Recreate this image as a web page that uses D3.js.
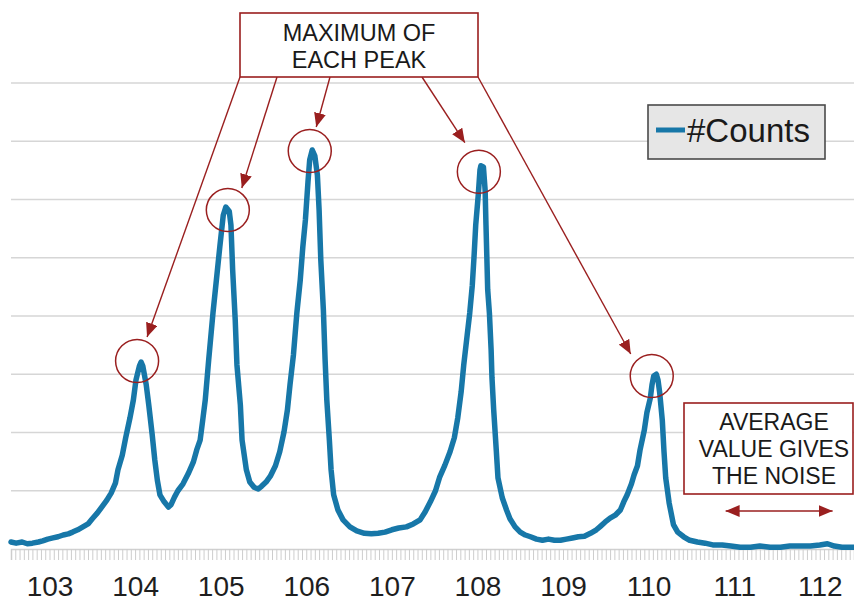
<!DOCTYPE html>
<html>
<head>
<meta charset="utf-8">
<script src="https://cdn.jsdelivr.net/npm/d3@7/dist/d3.min.js"></script>
<style>
  html, body { margin: 0; padding: 0; background: #fff; }
  svg { display: block; font-family: "Liberation Sans", Arial, Helvetica, sans-serif; }
</style>
</head>
<body>
<svg id="chart" width="854" height="603"></svg>
<script>
// Mass axis (m/z) and recorded counts of the spectrum
const mz = [
  102.55, 102.61, 102.68, 102.74, 102.80, 102.87, 102.92, 102.98, 103.04, 103.10,
  103.16, 103.22, 103.27, 103.33, 103.39, 103.45, 103.50, 103.56, 103.61, 103.67,
  103.72, 103.77, 103.80, 103.85, 103.89, 103.94, 103.98, 104.01, 104.05, 104.07,
  104.09, 104.13, 104.16, 104.20, 104.23, 104.26, 104.29, 104.34, 104.39, 104.42,
  104.46, 104.50, 104.56, 104.62, 104.68, 104.72, 104.76, 104.79, 104.82, 104.86,
  104.91, 104.95, 104.99, 105.03, 105.06, 105.10, 105.12, 105.14, 105.17, 105.19,
  105.23, 105.25, 105.30, 105.34, 105.39, 105.44, 105.48, 105.53, 105.58, 105.64,
  105.69, 105.74, 105.78, 105.81, 105.85, 105.89, 105.93, 105.96, 105.99, 106.02,
  106.04, 106.07, 106.10, 106.13, 106.15, 106.17, 106.20, 106.22, 106.24, 106.27,
  106.29, 106.32, 106.37, 106.43, 106.51, 106.59, 106.68, 106.76, 106.84, 106.92,
  107.00, 107.08, 107.17, 107.25, 107.33, 107.39, 107.45, 107.51, 107.56, 107.62,
  107.68, 107.73, 107.77, 107.81, 107.84, 107.88, 107.91, 107.94, 107.96, 107.98,
  108.01, 108.03, 108.04, 108.07, 108.09, 108.10, 108.11, 108.12, 108.14, 108.16,
  108.17, 108.19, 108.22, 108.24, 108.29, 108.34, 108.38, 108.44, 108.50, 108.56,
  108.62, 108.69, 108.76, 108.83, 108.90, 108.97, 109.04, 109.11, 109.18, 109.25,
  109.32, 109.39, 109.43, 109.49, 109.55, 109.61, 109.67, 109.71, 109.75, 109.80,
  109.83, 109.87, 109.90, 109.95, 109.98, 110.02, 110.04, 110.06, 110.09, 110.11,
  110.13, 110.16, 110.18, 110.20, 110.24, 110.29, 110.34, 110.41, 110.48, 110.57,
  110.66, 110.75, 110.86, 110.96, 111.07, 111.19, 111.30, 111.42, 111.54, 111.65,
  111.77, 111.89, 112.00, 112.09, 112.17, 112.26, 112.33, 112.40
];
const counts = [
   12,  10,  12,   9,  10,  12,  14,  17,  19,  21,
   24,  26,  29,  33,  38,  43,  52,  62,  72,  84,
   96, 113, 136, 161, 191, 225, 256, 290, 314, 321,
  314, 282, 247, 196, 153, 118,  93,  81,  72,  76,
   89, 100, 112, 129, 149, 170, 187, 221, 256, 325,
  405, 462, 519, 573, 587, 580, 556, 479, 393, 316,
  247, 187, 136, 115, 106, 103, 108, 115, 125, 143,
  167, 201, 239, 282, 333, 405, 462, 519, 565, 630,
  668, 685, 675, 642, 582, 496, 410, 325, 256, 187,
  136,  93,  67,  50,  38,  31,  27,  26,  27,  29,
   33,  36,  38,  43,  50,  64,  81, 100, 124, 144,
  167, 191, 225, 270, 316, 367, 405, 453, 501, 556,
  608, 651, 658, 656, 616, 556, 501, 445, 405, 342,
  294, 239, 170, 122,  88,  67,  52,  38,  29,  24,
   21,  17,  15,  17,  15,  15,  17,  19,  21,  22,
   27,  33,  38,  46,  53,  58,  67,  81,  93, 112,
  127, 143, 170, 204, 234, 259, 282, 297, 300, 290,
  268, 221, 167, 122,  79,  42,  29,  21,  15,  12,
   10,   7,   7,   5,   3,   3,   5,   3,   3,   5,
    5,   5,   7,   9,   5,   3,   3,   3
];
// Peak positions picked out by the annotation
const peakMz = [104.07, 105.06, 106.07, 108.04, 110.06];
// Major tick labels on the mass axis
const tickLabels = [103, 104, 105, 106, 107, 108, 109, 110, 111, 112];
// Horizontal gridline levels
const gridLevels = [100, 200, 300, 400, 500, 600, 700, 800];

const svg = d3.select("#chart");
const plotLeft = 11, plotRight = 854, plotTop = 83, plotBottom = 549;

const x = d3.scaleLinear().domain([102.55, 112.40]).range([plotLeft, plotRight]);
const y = d3.scaleLinear().domain([0, 800]).range([plotBottom, plotTop]);

const RED = "#9a1f1f";
const BLUE = "#1777a8";

// gridlines
svg.append("g")
  .selectAll("line")
  .data(gridLevels)
  .join("line")
  .attr("x1", plotLeft).attr("x2", plotRight)
  .attr("y1", d => y(d)).attr("y2", d => y(d))
  .attr("stroke", "#d6d6d6").attr("stroke-width", 1.6);

// minor ticks every 0.05
const minorTicks = d3.range(0, 198).map(i => +(102.55 + i * 0.05).toFixed(2));
const minorAxis = svg.append("g")
  .attr("transform", `translate(0,${plotBottom})`)
  .call(d3.axisBottom(x).tickValues(minorTicks).tickSize(11).tickFormat(""));
minorAxis.select(".domain").attr("stroke", "#d0d0d0").attr("stroke-width", 1.5);
minorAxis.selectAll(".tick line").attr("stroke", "#cdcdcd").attr("stroke-width", 1);

// major labels
const majorAxis = svg.append("g")
  .attr("transform", `translate(0,${plotBottom})`)
  .call(d3.axisBottom(x).tickValues(tickLabels).tickSize(0).tickPadding(27).tickFormat(d3.format("d")));
majorAxis.select(".domain").remove();
majorAxis.selectAll("text")
  .attr("font-family", "'Liberation Sans', Arial, sans-serif")
  .attr("font-size", 28).attr("fill", "#1e1e1e");

// spectrum line
const series = mz.map((m, i) => ({ m, c: counts[i] }));
const line = d3.line().x(d => x(d.m)).y(d => y(d.c));
svg.append("path")
  .datum(series)
  .attr("d", line)
  .attr("fill", "none")
  .attr("stroke", BLUE)
  .attr("stroke-width", 5.5)
  .attr("stroke-linejoin", "round")
  .attr("stroke-linecap", "round");

// arrow markers
const defs = svg.append("defs");
defs.append("marker")
  .attr("id", "head")
  .attr("viewBox", "0 0 14 12")
  .attr("refX", 14).attr("refY", 6)
  .attr("markerWidth", 14).attr("markerHeight", 12)
  .attr("markerUnits", "userSpaceOnUse")
  .attr("orient", "auto-start-reverse")
  .append("path").attr("d", "M0,0 L14,6 L0,12 Z").attr("fill", RED);

// peak circles and arrows from the title box
const peaks = peakMz.map(p => {
  const i = d3.minIndex(mz, m => Math.abs(m - p));
  return { m: mz[i], c: counts[i] };
});
const circleOffset = [[-4, -1], [2, 3], [-2.5, 1], [-2, 6], [-2, 0]];
const tipOffset = [[6, -25], [16, -19], [4, -23], [-16, -23], [-23, -22]];
const box1 = { x: 240, y: 13, w: 238, h: 64 };
const arrowStartX = [240, 277, 330, 422, 478];

const ann = svg.append("g");
peaks.forEach((p, i) => {
  const px = x(p.m), py = y(p.c);
  ann.append("circle")
    .attr("cx", px + circleOffset[i][0]).attr("cy", py + circleOffset[i][1])
    .attr("r", 21.5)
    .attr("fill", "none").attr("stroke", RED).attr("stroke-width", 1.5);
  ann.append("line")
    .attr("x1", arrowStartX[i]).attr("y1", box1.y + box1.h)
    .attr("x2", px + tipOffset[i][0]).attr("y2", py + tipOffset[i][1])
    .attr("stroke", RED).attr("stroke-width", 1.4)
    .attr("marker-end", "url(#head)");
});

// title box
ann.append("rect")
  .attr("x", box1.x).attr("y", box1.y).attr("width", box1.w).attr("height", box1.h)
  .attr("fill", "#fff").attr("stroke", RED).attr("stroke-width", 1.6);
ann.append("text")
  .attr("x", box1.x + box1.w / 2).attr("y", 41)
  .attr("text-anchor", "middle").attr("font-size", 23.5).attr("fill", "#1a1a1a")
  .text("MAXIMUM OF");
ann.append("text")
  .attr("x", box1.x + box1.w / 2).attr("y", 68)
  .attr("text-anchor", "middle").attr("font-size", 23.5).attr("fill", "#1a1a1a")
  .text("EACH PEAK");

// noise box
const box2 = { x: 684, y: 403, w: 169, h: 91 };
ann.append("rect")
  .attr("x", box2.x).attr("y", box2.y).attr("width", box2.w).attr("height", box2.h)
  .attr("fill", "#fff").attr("stroke", RED).attr("stroke-width", 1.6);
["AVERAGE", "VALUE GIVES", "THE NOISE"].forEach((t, i) => {
  ann.append("text")
    .attr("x", 774).attr("y", 430 + i * 26.8)
    .attr("text-anchor", "middle").attr("font-size", 23).attr("fill", "#1a1a1a")
    .text(t);
});
// double-headed arrow over the noise region
ann.append("line")
  .attr("x1", x(110.9)).attr("x2", x(112.15))
  .attr("y1", 511).attr("y2", 511)
  .attr("stroke", RED).attr("stroke-width", 1.6)
  .attr("marker-start", "url(#head)").attr("marker-end", "url(#head)");

// legend
const lg = svg.append("g");
lg.append("rect")
  .attr("x", 648).attr("y", 105).attr("width", 177).attr("height", 54)
  .attr("fill", "#e6e6e6").attr("stroke", "#4a4a4a").attr("stroke-width", 1.6);
lg.append("line")
  .attr("x1", 656).attr("x2", 685).attr("y1", 130).attr("y2", 130)
  .attr("stroke", BLUE).attr("stroke-width", 5);
lg.append("text")
  .attr("x", 687).attr("y", 142)
  .attr("font-size", 33).attr("fill", "#1a1a1a")
  .text("#Counts");
</script>
</body>
</html>
